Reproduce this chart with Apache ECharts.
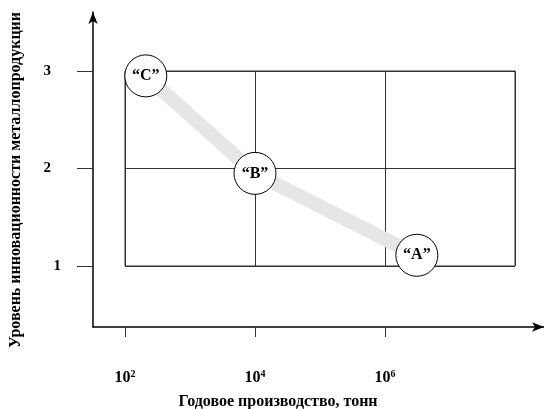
<!DOCTYPE html>
<html><head><meta charset="utf-8">
<script src="https://cdn.jsdelivr.net/npm/echarts@6/dist/echarts.min.js"></script>
<style>html,body{margin:0;padding:0;background:#fff}#c{width:544px;height:409px}</style>
</head><body><div id="c"></div>
<script>
const pointNames = ['“C”', '“B”', '“A”'];
const logProduction = [2.32, 4.0, 6.49];
const innovationLevel = [2.95, 1.95, 1.11];
const xTickExponents = [2, 4, 6];
const yTickValues = [1, 2, 3];
const xAxisTitle = 'Годовое производство, тонн';
const yAxisTitle = 'Уровень инновационности металлопродукции';

const FONT = '"Liberation Serif", "Times New Roman", serif';
const pts = logProduction.map((x, i) => [x, innovationLevel[i], pointNames[i]]);

const chart = echarts.init(document.getElementById('c'));
chart.setOption({
  animation: false,
  backgroundColor: '#fff',
  grid: [
    {left: 93, top: 12, right: 0, bottom: 82, show: false},
    {left: 125, top: 71, width: 390, height: 195, show: true, borderColor: '#333', borderWidth: 1, backgroundColor: 'transparent'}
  ],
  xAxis: [
    {gridIndex: 0, type: 'value', min: 1.508, max: 8.446,
     axisLine: {show: true, lineStyle: {color: '#000', width: 1.5}, symbol: ['none', 'arrow'], symbolSize: [7, 12]},
     axisTick: {show: true, customValues: xTickExponents, length: 10, inside: false, lineStyle: {color: '#333'}},
     axisLabel: {show: true, customValues: xTickExponents, margin: 42,
       formatter: v => '{b|10}{s|' + v + '}',
       rich: {b: {fontFamily: FONT, fontWeight: 'bold', fontSize: 16, color: '#000'},
              s: {fontFamily: FONT, fontWeight: 'bold', fontSize: 10, color: '#000', verticalAlign: 'top', padding: [0, 0, 8, 0]}}},
     splitLine: {show: false}},
    {gridIndex: 1, type: 'value', min: 2, max: 8, interval: 2,
     axisLine: {show: false}, axisTick: {show: false}, axisLabel: {show: false},
     splitLine: {show: true, lineStyle: {color: '#333', width: 1}}}
  ],
  yAxis: [
    {gridIndex: 0, type: 'value', min: 0.374, max: 3.605,
     axisLine: {show: true, lineStyle: {color: '#000', width: 1.5}, symbol: ['none', 'arrow'], symbolSize: [7, 12]},
     axisTick: {show: true, customValues: yTickValues, length: 16, lineStyle: {color: '#333'}},
     axisLabel: {show: true, customValues: yTickValues, margin: 32,
       formatter: v => v === 1 ? '{n|1}' : '{p|' + v + '}',
       rich: {n: {fontFamily: FONT, fontWeight: 'bold', fontSize: 15, color: '#000'},
              p: {fontFamily: FONT, fontWeight: 'bold', fontSize: 15, color: '#000', padding: [0, 10, 0, 0]}}},
     splitLine: {show: false}},
    {gridIndex: 1, type: 'value', min: 1, max: 3, interval: 1,
     axisLine: {show: false}, axisTick: {show: false}, axisLabel: {show: false},
     splitLine: {show: true, lineStyle: {color: '#333', width: 1}}}
  ],
  graphic: [
    {type: 'text', x: 278, y: 402, style: {text: xAxisTitle, font: 'bold 16px ' + FONT, fill: '#000', textAlign: 'center', textVerticalAlign: 'middle'}},
    {type: 'text', rotation: Math.PI / 2, x: 16, y: 180, style: {text: yAxisTitle, font: 'bold 16px ' + FONT, fill: '#000', textAlign: 'center', textVerticalAlign: 'middle'}}
  ],
  series: [
    {type: 'line', xAxisIndex: 1, yAxisIndex: 1, data: pts, symbol: 'none', clip: false, z: 3,
     lineStyle: {color: '#e6e6e6', width: 14, cap: 'round', join: 'round'}},
    {type: 'scatter', xAxisIndex: 1, yAxisIndex: 1, data: pts, symbol: 'circle', symbolSize: 42, clip: false, z: 4,
     itemStyle: {color: '#fff', borderColor: '#000', borderWidth: 1, opacity: 1},
     label: {show: true, position: 'inside', formatter: p => p.data[2], fontFamily: FONT, fontWeight: 'bold', fontSize: 16, color: '#000'}}
  ]
});
</script></body></html>
